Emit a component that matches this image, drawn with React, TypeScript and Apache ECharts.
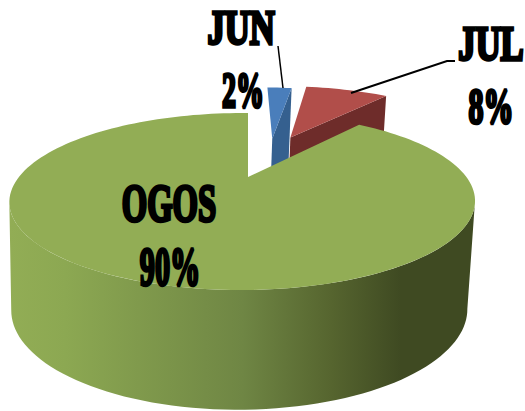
import React, { useEffect, useRef } from "react";
import * as echarts from "echarts";

const categories = ["JUN", "JUL", "OGOS"];
const percentValues = [2.4, 8.1, 89.5];

// Rendering constants
const TOP = { cx: 248, cy: 177, rx: 223.6, ry: 81.7 };
const BOTTOM = { cx: 245, cy: 282, rx: 219, ry: 92.3 };
const K_V = 0.277;
const K_U = 0.024;
const OFFSETS = [[0.125, 0.54], [0.22, 0.56], [0, 0]];
const RADII = [1.04, 1.06, 1];
const TOP_COLORS = ["#4a7ebb", "#b14e4a", "#92ad55"];
const WALL_COLORS = ["#35608f", "#6e2c2a", "#6f8644"];
const LABEL_POS = [
  { name: [241, 28, 0.72, 48], pct: [243, 90, 0.56, 50] },
  { name: [491, 44, 0.72, 48], pct: [491, 106, 0.6, 50] },
  { name: [169, 203, 0.63, 52], pct: [170, 266, 0.56, 54] },
];

function project(u: number, v: number, p: typeof TOP): number[] {
  const w = 1 + K_V * v + K_U * u;
  return [p.cx + (p.rx * u) / w, p.cy - (p.ry * v) / w];
}

function rim(a0: number, a1: number, off: number[], r: number, p: typeof TOP): number[][] {
  const n = Math.max(2, Math.ceil(Math.abs(a1 - a0) / 2));
  const pts: number[][] = [];
  for (let i = 0; i <= n; i++) {
    const t = ((a0 + ((a1 - a0) * i) / n) * Math.PI) / 180;
    pts.push(project(off[0] + r * Math.sin(t), off[1] + r * Math.cos(t), p));
  }
  return pts;
}

function labelText(text: string, c: number[]) {
  return {
    type: "text",
    x: c[0],
    y: c[1],
    scaleX: c[2],
    z2: 50,
    style: {
      text,
      x: 0,
      y: 0,
      align: "center",
      verticalAlign: "middle",
      font: `bold ${c[3]}px "Liberation Serif"`,
      fill: "#000",
      stroke: "#000",
      lineWidth: 3.5,
    },
  };
}

function renderItem(params: any, api: any) {
  const i = params.dataIndex;
  const total = percentValues.reduce((a, b) => a + b, 0);
  const before = percentValues.slice(0, i).reduce((a, b) => a + b, 0);
  const a0 = (before / total) * 360;
  const a1 = ((before + api.value(0)) / total) * 360;
  const off = OFFSETS[i];
  const r = RADII[i];
  const children: any[] = [];
  if (i < 2) {
    // cut face on the clockwise edge, visible behind the big slice
    const aT = project(off[0], off[1], TOP);
    const aB = project(off[0], off[1], BOTTOM);
    const rT = rim(a1, a1, off, r, TOP)[0];
    const rB = rim(a1, a1, off, r, BOTTOM)[0];
    children.push({
      type: "polygon",
      shape: { points: [aT, rT, rB, aB] },
      style: { fill: WALL_COLORS[i] },
    });
  } else {
    const t = rim(106, 254, off, r, TOP);
    const b = rim(106, 254, off, r, BOTTOM);
    children.push({
      type: "polygon",
      shape: { points: [...b, ...t.reverse()] },
      style: {
        fill: new echarts.graphic.LinearGradient(0, 0, 1, 0, [
          { offset: 0, color: "#92ad55" },
          { offset: 0.12, color: "#8ca852" },
          { offset: 0.5, color: "#6f8644" },
          { offset: 0.69, color: "#56652f" },
          { offset: 0.84, color: "#3f4a22" },
          { offset: 1, color: "#3f4a22" },
        ]),
      },
    });
  }
  children.push({
    type: "polygon",
    shape: { points: [project(off[0], off[1], TOP), ...rim(a0, a1, off, r, TOP)] },
    style: { fill: TOP_COLORS[i] },
  });
  if (i === 0) {
    children.push({
      type: "polyline",
      shape: { points: [[278, 46], [283, 88]] },
      style: { stroke: "#000", lineWidth: 1.5, fill: "none" },
      z2: 40,
    });
  }
  if (i === 1) {
    children.push({
      type: "polyline",
      shape: { points: [[351, 93], [447, 61], [455, 61]] },
      style: { stroke: "#000", lineWidth: 2, fill: "none" },
      z2: 40,
    });
  }
  const lp = LABEL_POS[i];
  children.push(labelText(categories[i], lp.name));
  children.push(labelText(`${Math.round(percentValues[i])}%`, lp.pct));
  return { type: "group", children };
}

export default function App() {
  const ref = useRef<HTMLDivElement>(null);
  useEffect(() => {
    const chart = echarts.init(ref.current!, undefined, { renderer: "svg" });
    chart.setOption({
      animation: false,
      backgroundColor: "#fff",
      series: [
        {
          type: "custom",
          coordinateSystem: "none",
          renderItem,
          silent: true,
          data: categories.map((name, i) => ({ name, value: [percentValues[i]] })),
          encode: { value: 0 },
        },
      ],
    });
    return () => chart.dispose();
  }, []);
  return (
    <div
      ref={ref}
      style={{ position: "fixed", left: 0, top: 0, width: 525, height: 411 }}
    />
  );
}
